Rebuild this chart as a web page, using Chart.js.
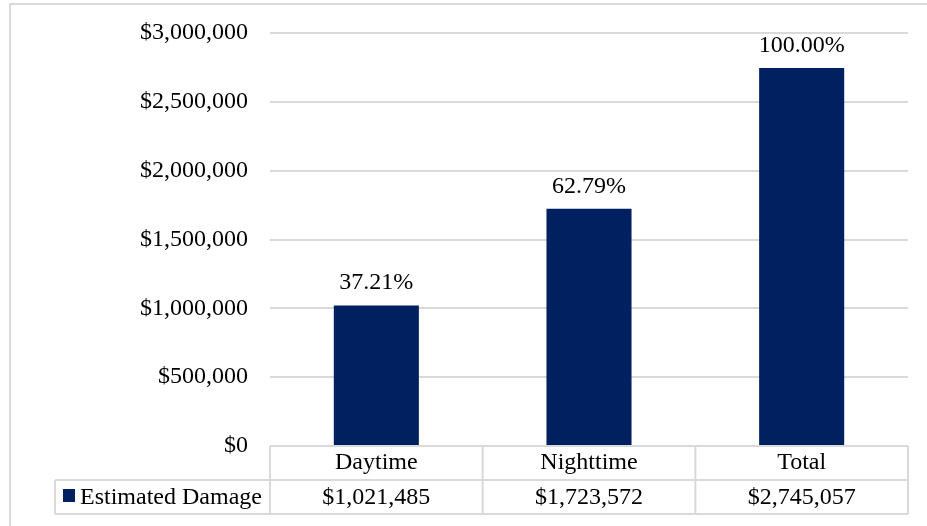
<!DOCTYPE html>
<html>
<head>
<meta charset="utf-8">
<script src="https://cdn.jsdelivr.net/npm/chart.js@4"></script>
<style>
  html, body { margin: 0; padding: 0; background: #ffffff; }
  #wrap { width: 927px; height: 526px; position: relative; }
  canvas { display: block; }
</style>
</head>
<body>
<div id="wrap"><canvas id="c" width="927" height="526"></canvas></div>
<script>
const categories = ['Daytime', 'Nighttime', 'Total'];
const damage = [1021485, 1723572, 2745057];
const pctLabels = ['37.21%', '62.79%', '100.00%'];
const seriesName = 'Estimated Damage';
const yTickValues = [0, 500000, 1000000, 1500000, 2000000, 2500000, 3000000];

const FONT = '"Liberation Serif", "Times New Roman", serif';
const FONT_SIZE = 24;
const BAR_COLOR = '#002060';
const LINE_COLOR = '#d9d9d9';

function money(v) { return '$' + Math.round(v).toLocaleString('en-US'); }

const frame = {
  id: 'frame',
  beforeDraw(chart) {
    const ctx = chart.ctx;
    ctx.save();
    ctx.fillStyle = '#ffffff';
    ctx.fillRect(0, 0, chart.width, chart.height);
    ctx.strokeStyle = LINE_COLOR;
    ctx.lineWidth = 2;
    ctx.beginPath();
    ctx.moveTo(10, chart.height + 2);
    ctx.lineTo(10, 4);
    ctx.lineTo(chart.width + 2, 4);
    ctx.stroke();
    ctx.restore();
  }
};

const pctPlugin = {
  id: 'pctLabels',
  afterDatasetsDraw(chart) {
    const ctx = chart.ctx;
    const meta = chart.getDatasetMeta(0);
    ctx.save();
    ctx.font = FONT_SIZE + 'px ' + FONT;
    ctx.fillStyle = '#000000';
    ctx.textAlign = 'center';
    ctx.textBaseline = 'alphabetic';
    meta.data.forEach((bar, i) => {
      ctx.fillText(pctLabels[i], bar.x, bar.y - 16);
    });
    ctx.restore();
  }
};

const tablePlugin = {
  id: 'dataTable',
  afterDraw(chart) {
    const ctx = chart.ctx;
    const area = chart.chartArea;
    const n = categories.length;
    const colW = (area.right - area.left) / n;
    const rowH = 34;
    const top = area.bottom;
    const mid = top + rowH;
    const bot = mid + rowH;
    const legLeft = 55;
    ctx.save();
    ctx.strokeStyle = LINE_COLOR;
    ctx.lineWidth = 2;
    ctx.beginPath();
    ctx.moveTo(area.left, top); ctx.lineTo(area.right, top);
    ctx.moveTo(legLeft, mid); ctx.lineTo(area.right, mid);
    ctx.moveTo(legLeft, bot); ctx.lineTo(area.right, bot);
    ctx.moveTo(legLeft, mid); ctx.lineTo(legLeft, bot);
    for (let i = 0; i <= n; i++) {
      const x = area.left + i * colW;
      ctx.moveTo(x, top); ctx.lineTo(x, bot);
    }
    ctx.stroke();

    ctx.font = FONT_SIZE + 'px ' + FONT;
    ctx.fillStyle = '#000000';
    ctx.textAlign = 'center';
    ctx.textBaseline = 'alphabetic';
    const xs = chart.scales.x;
    categories.forEach((c, i) => {
      const cx = xs.getPixelForValue(i);
      ctx.fillText(c, cx, top + 23);
      ctx.fillText(money(damage[i]), cx, mid + 24);
    });
    ctx.fillStyle = BAR_COLOR;
    ctx.fillRect(63, mid + 9, 12, 13);
    ctx.fillStyle = '#000000';
    ctx.textAlign = 'left';
    ctx.fillText(seriesName, 80, mid + 24);
    ctx.restore();
  }
};

new Chart(document.getElementById('c'), {
  type: 'bar',
  data: {
    labels: categories,
    datasets: [{
      label: seriesName,
      data: damage,
      backgroundColor: BAR_COLOR,
      borderWidth: 0,
      barPercentage: 0.4,
      categoryPercentage: 1.0
    }]
  },
  options: {
    responsive: false,
    animation: false,
    events: [],
    layout: { padding: { left: 10, top: 33, right: 19, bottom: 80 } },
    plugins: { legend: { display: false }, tooltip: { enabled: false }, title: { display: false } },
    scales: {
      x: { display: false, offset: true },
      y: {
        min: 0,
        max: 3000000,
        afterFit(s) { s.width = 260; s.paddingTop = 0; s.paddingBottom = 0; },
        afterBuildTicks(s) { s.ticks = yTickValues.map(v => ({ value: v })); },
        border: { display: false },
        grid: { color: LINE_COLOR, lineWidth: 2, drawTicks: false },
        ticks: {
          padding: 22,
          color: '#000000',
          font: { family: FONT, size: FONT_SIZE },
          callback: (v) => money(v)
        }
      }
    }
  },
  plugins: [frame, pctPlugin, tablePlugin]
});
</script>
</body>
</html>
